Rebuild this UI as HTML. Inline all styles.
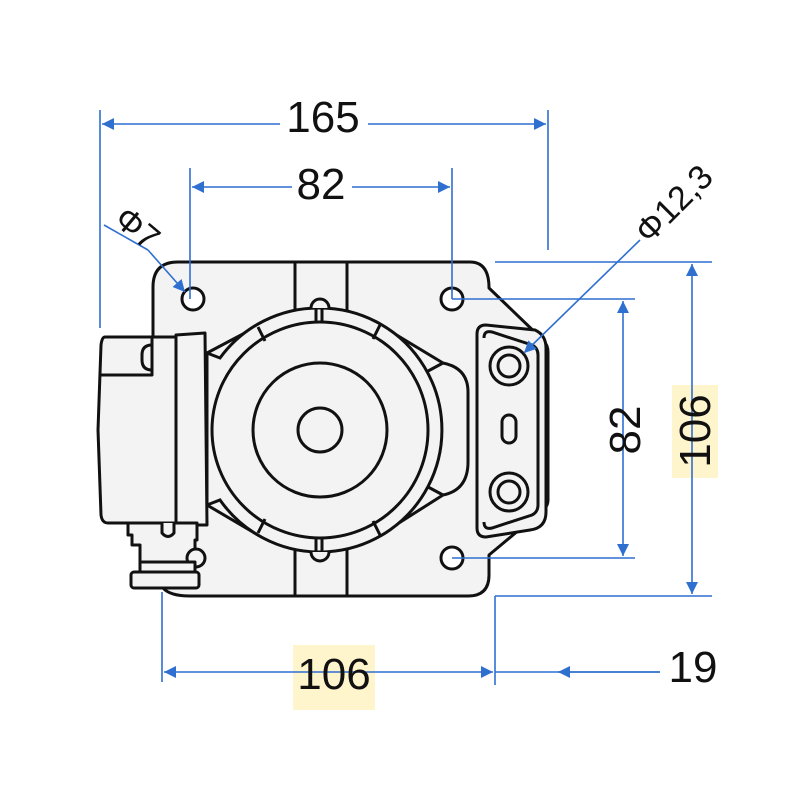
<!DOCTYPE html>
<html><head><style>
html,body{margin:0;padding:0;background:#fff;width:800px;height:800px;overflow:hidden}
svg{display:block}
text{font-family:"Liberation Sans",sans-serif;fill:#111}
</style></head><body>
<svg width="800" height="800" viewBox="0 0 800 800" xmlns="http://www.w3.org/2000/svg">
<defs>
<marker id="a" viewBox="0 0 10 10" refX="10" refY="5" markerWidth="26" markerHeight="12" markerUnits="userSpaceOnUse" orient="auto-start-reverse"><path d="M0,0 L10,5 L0,10 z" fill="#2f6fd0"/></marker>
</defs>
<rect x="672" y="385" width="46" height="93" fill="#fff5cc"/>
<rect x="293" y="645" width="82" height="65" fill="#fff5cc"/>
<g fill="#f3f3f3" stroke="#111" stroke-width="3" stroke-linejoin="round">
<path d="M178,262 L470,262 Q489,262 489,288 L543,340 Q548,345 548,352 L548,500 Q548,506 543,510 L489,555 L489,575 Q489,596 468,596 L190,596 Q170,596 163,588 L153,340 L153,287 Q153,262 178,262 Z"/>
</g>
<g fill="none" stroke="#111" stroke-width="3">
<line x1="295" y1="262" x2="295" y2="596"/><line x1="347" y1="262" x2="347" y2="596"/>
<path d="M207,353 L258,326"/><path d="M380,325 L443,363"/><path d="M207,505 L258,535"/><path d="M380,535 L443,495"/>
<path d="M443,363 Q468,368 468,392 L468,462 Q468,490 443,495"/>
<line x1="415" y1="378" x2="443" y2="363"/><line x1="415" y1="480" x2="443" y2="495"/>
</g>
<g fill="#f3f3f3" stroke="#111" stroke-width="3">
<path d="M320,308 A122,122 0 1 1 220,500 L207,505 L207,353 L220,358 A122,122 0 0 1 320,308 Z"/>
<circle cx="320" cy="430" r="108"/>
<circle cx="320" cy="430" r="67"/>
<circle cx="320" cy="430" r="22"/>
<circle cx="193" cy="299" r="11" fill="#fff"/>
<circle cx="452" cy="299" r="11" fill="#fff"/>
<circle cx="452" cy="558" r="11" fill="#fff"/>
<path d="M311,308 A9,9 0 0 1 329,308" /><path d="M311,552 A9,9 0 0 0 329,552"/>
</g>
<g stroke="#111" stroke-width="3" fill="none">
<line x1="316" y1="308" x2="316" y2="322"/><line x1="322" y1="308" x2="322" y2="322"/>
<line x1="316" y1="538" x2="316" y2="552"/><line x1="322" y1="538" x2="322" y2="552"/>
<line x1="258" y1="327" x2="265" y2="341"/><line x1="380" y1="325" x2="373" y2="339"/>
<line x1="258" y1="533" x2="265" y2="519"/><line x1="380" y1="535" x2="373" y2="521"/>
</g>
<!-- right bracket -->
<g fill="#f3f3f3" stroke="#111" stroke-width="3">
<path d="M486,325 L535,330 Q546,335 546,348 L546,512 Q546,528 530,530 L486,537 Q477,537 477,528 L477,334 Q477,325 486,325 Z"/>
<path d="M484,338 Q484,330 492,332 L532,345 Q538,348 538,355 L538,505 Q538,512 532,515 L492,528 Q484,530 484,522" fill="none"/>
<circle cx="509" cy="366" r="19"/><circle cx="509" cy="366" r="11"/>
<circle cx="509" cy="492" r="19"/><circle cx="509" cy="492" r="11"/>
<rect x="502" y="415" width="14" height="28" rx="7"/>
</g>
<!-- box -->
<g fill="#f3f3f3" stroke="#111" stroke-width="3" stroke-linejoin="round">
<path d="M105,337 L176,337 L176,523 L108,523 Q102,523 101,515 L98,430 L101,345 Q102,337 105,337 Z"/>
<path d="M101,375 L152,375 L152,337"/>
<path d="M142,355 Q142,345 152,345 L152,370 Q142,370 142,360 Z"/>
<path d="M176,335 L205,333 L207,525 L176,525 Z"/>
<path d="M128,523 L197,523 L197,540 L195,540 L195,562 L140,562 L140,545 L132,545 L132,535 L128,535 Z"/>
<path d="M162,523 L162,533 Q168,540 174,533 L174,523"/>
<circle cx="196" cy="558" r="9"/>
<path d="M140,562 L195,562 L195,572 L140,572 Z"/>
<rect x="131" y="572" width="68" height="16" rx="3"/>
</g>
<!-- dimensions -->
<g stroke="#2f6fd0" stroke-width="1.6" fill="none">
<line x1="100" y1="110" x2="100" y2="328"/><line x1="548" y1="110" x2="548" y2="250"/>
<line x1="102" y1="124" x2="280" y2="124" marker-start="url(#a)"/><line x1="368" y1="124" x2="546" y2="124" marker-end="url(#a)"/>
<line x1="190" y1="168" x2="190" y2="299"/><line x1="452" y1="168" x2="452" y2="299"/>
<line x1="192" y1="187" x2="292" y2="187" marker-start="url(#a)"/><line x1="352" y1="187" x2="450" y2="187" marker-end="url(#a)"/>
<line x1="104" y1="225" x2="148" y2="250"/><line x1="148" y1="250" x2="185" y2="292" marker-end="url(#a)"/>
<line x1="640" y1="240" x2="524" y2="353" marker-end="url(#a)"/>
<line x1="452" y1="299" x2="635" y2="299"/><line x1="452" y1="558" x2="635" y2="558"/>
<line x1="623" y1="301" x2="623" y2="556" marker-start="url(#a)" marker-end="url(#a)"/>
<line x1="495" y1="262" x2="712" y2="262"/><line x1="495" y1="596" x2="712" y2="596"/>
<line x1="692" y1="264" x2="692" y2="594" marker-start="url(#a)" marker-end="url(#a)"/>
<line x1="162" y1="592" x2="162" y2="682"/><line x1="495" y1="596" x2="495" y2="685"/>
<line x1="164" y1="672" x2="493" y2="672" marker-start="url(#a)" marker-end="url(#a)"/>
<line x1="495" y1="672" x2="660" y2="672"/><line x1="660" y1="672" x2="558" y2="672" marker-end="url(#a)"/>
</g>
<g font-size="44">
<text x="323" y="132" text-anchor="middle">165</text>
<text x="321" y="199" text-anchor="middle">82</text>
<text x="334" y="689" text-anchor="middle">106</text>
<text x="693" y="682" text-anchor="middle">19</text>
<text transform="translate(640,430) rotate(-90)" text-anchor="middle">82</text>
<text transform="translate(710,431) rotate(-90)" text-anchor="middle">106</text>
</g>
<text font-size="34" transform="translate(130,237) rotate(40)" text-anchor="middle">Φ7</text>
<text font-size="34" transform="translate(682,212) rotate(-45)" text-anchor="middle">Φ12,3</text>
</svg>
</body></html>
